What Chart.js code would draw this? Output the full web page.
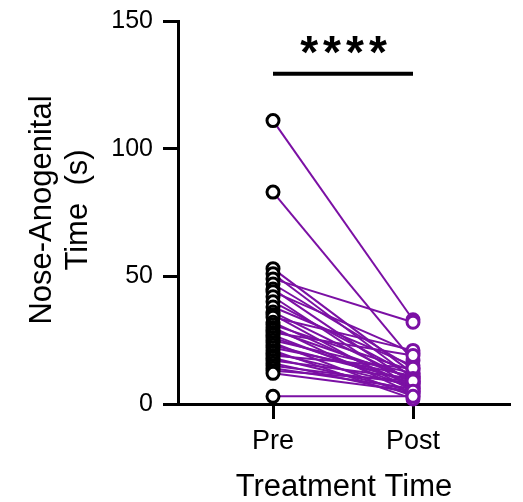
<!DOCTYPE html>
<html>
<head>
<meta charset="utf-8">
<script src="https://cdn.jsdelivr.net/npm/chart.js@4"></script>
<style>
  html, body { margin: 0; padding: 0; background: #fff; }
  #wrap { width: 523px; height: 502px; }
</style>
</head>
<body>
<div id="wrap"><canvas id="chart" width="523" height="502"></canvas></div>
<script>
// paired values, one entry per animal
const groups = ["Pre", "Post"];
const preValues = [111, 83, 53, 51, 49, 47, 45, 44, 42, 40, 38, 36, 35, 34, 32, 31, 30, 29, 28,
  27, 26, 25, 24, 23, 22, 21, 20, 19, 18, 17, 16, 15, 14, 13, 12, 3];
const postValues = [33, 17, 12, 10, 32, 14, 8, 20, 6, 11, 15, 9, 5, 21, 7, 13, 4, 10, 19,
  6, 8, 12, 3, 9, 11, 2, 7, 14, 5, 10, 4, 8, 6, 9, 5, 3];
const yTicks = [0, 50, 100, 150];
const sigLevel = 129.3;
const sigLabel = "****";

const purple = "#7b10a4";
const font = "'Liberation Sans', Arial, sans-serif";

// points on top (order 0), connecting lines beneath
const datasets = [
  {
    type: "scatter",
    data: preValues.map((v) => ({ x: 0, y: v })),
    pointRadius: 6,
    pointBorderWidth: 3,
    pointBorderColor: "#000",
    pointBackgroundColor: "#fff",
    clip: false,
    order: 0,
  },
  {
    type: "scatter",
    data: postValues.map((v) => ({ x: 1, y: v })),
    pointRadius: 6,
    pointBorderWidth: 3,
    pointBorderColor: purple,
    pointBackgroundColor: "#fff",
    clip: false,
    order: 0,
  },
  ...preValues.map((v, i) => ({
    type: "line",
    data: [{ x: 0, y: v }, { x: 1, y: postValues[i] }],
    borderColor: purple,
    borderWidth: 2,
    pointRadius: 0,
    clip: false,
    order: 1,
  })),
];

const textPlugin = {
  id: "texts",
  afterDraw(chart) {
    const { ctx, scales } = chart;
    const x = scales.x, y = scales.y;
    ctx.save();
    ctx.fillStyle = "#000";
    ctx.strokeStyle = "#000";

    // significance bar
    const yb = y.getPixelForValue(sigLevel);
    ctx.lineWidth = 4;
    ctx.beginPath();
    ctx.moveTo(x.getPixelForValue(0), yb);
    ctx.lineTo(x.getPixelForValue(1), yb);
    ctx.stroke();
    ctx.font = "bold 46px " + font;
    ctx.letterSpacing = "5px";
    ctx.textAlign = "center";
    ctx.textBaseline = "alphabetic";
    ctx.fillText(sigLabel, (x.getPixelForValue(0) + x.getPixelForValue(1)) / 2 + 3, 68);
    ctx.letterSpacing = "0px";

    // axis titles
    ctx.font = "31px " + font;
    ctx.textBaseline = "middle";
    ctx.fillText("Treatment Time", 344, 487);
    ctx.translate(42, 210);
    ctx.rotate(-Math.PI / 2);
    ctx.fillText("Nose-Anogenital", 0, 0);
    ctx.fillText("Time  (s)", 0, 36);
    ctx.restore();
  },
};

new Chart(document.getElementById("chart"), {
  data: { datasets },
  options: {
    responsive: false,
    animation: false,
    layout: { padding: { top: 21, right: 14, left: 0, bottom: 0 } },
    plugins: { legend: { display: false }, tooltip: { enabled: false } },
    scales: {
      x: {
        type: "linear",
        min: -0.6786,
        max: 1.6857,
        afterBuildTicks: (s) => { s.ticks = [{ value: 0 }, { value: 1 }]; },
        afterFit: (s) => { s.height = 98; },
        ticks: {
          callback: (v) => groups[v],
          color: "#000",
          font: { family: font, size: 27 },
          padding: 6,
          maxRotation: 0,
        },
        grid: { drawOnChartArea: false, tickLength: 15, lineWidth: 3, color: "#000" },
        border: { width: 3, color: "#000" },
      },
      y: {
        min: 0,
        max: 150,
        afterBuildTicks: (s) => { s.ticks = yTicks.map((v) => ({ value: v })); },
        afterFit: (s) => { s.width = 178; s.paddingTop = 0; s.paddingBottom = 0; },
        ticks: {
          color: "#000",
          font: { family: font, size: 25 },
          padding: 10,
        },
        grid: { drawOnChartArea: false, tickLength: 15, lineWidth: 3, color: "#000" },
        border: { width: 3, color: "#000" },
      },
    },
  },
  plugins: [textPlugin],
});
</script>
</body>
</html>
